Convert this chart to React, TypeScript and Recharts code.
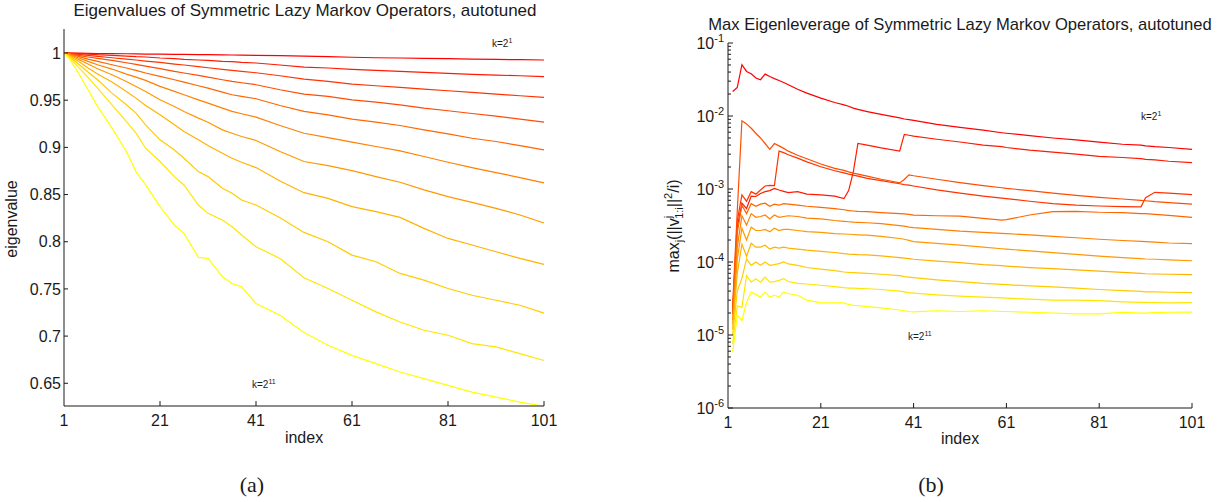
import { LineChart, Line, XAxis, YAxis } from "recharts";

const FONT = '"Liberation Sans", Arial, Helvetica, sans-serif';
const SERIF = '"Liberation Serif", "DejaVu Serif", serif';
const INK = "#1a1a1a";

// ---------- panel (a): eigenvalues ----------
const eigIndex = [1, 2, 3, 4, 6, 8, 11, 14, 16, 18, 21, 24, 26, 29, 31, 34, 36, 38, 41, 46, 51, 56, 61, 66, 71, 76, 81, 86, 91, 96, 101];

const eigK1 = [1, 0.99995, 0.9999, 0.9998, 0.9996, 0.9995, 0.9993, 0.9992, 0.999, 0.9989, 0.9988, 0.9986, 0.9985, 0.9983, 0.9982, 0.998, 0.9979, 0.9978, 0.9975, 0.9972, 0.9966, 0.9961, 0.9955, 0.995, 0.9947, 0.9943, 0.994, 0.9936, 0.9933, 0.9929, 0.9926];
const eigK2 = [1, 0.9998, 0.9996, 0.9993, 0.9989, 0.9982, 0.9975, 0.9968, 0.9961, 0.9958, 0.9947, 0.994, 0.9933, 0.9926, 0.9922, 0.9912, 0.9908, 0.9901, 0.9894, 0.9873, 0.9851, 0.9841, 0.9827, 0.9816, 0.9805, 0.9795, 0.9784, 0.9773, 0.9766, 0.9759, 0.975];
const eigK3 = [1, 0.9996, 0.9993, 0.9986, 0.9975, 0.9965, 0.995, 0.9936, 0.9926, 0.9915, 0.9901, 0.9883, 0.9873, 0.9855, 0.9844, 0.9827, 0.9816, 0.9805, 0.9791, 0.9759, 0.9724, 0.9699, 0.9671, 0.9653, 0.9635, 0.9618, 0.96, 0.9582, 0.9564, 0.9547, 0.953];
const eigK4 = [1, 0.9995, 0.9986, 0.9975, 0.9958, 0.9943, 0.9922, 0.9897, 0.988, 0.9862, 0.9834, 0.9805, 0.9788, 0.9763, 0.9745, 0.9717, 0.9699, 0.9685, 0.9664, 0.9611, 0.9565, 0.954, 0.9504, 0.948, 0.9451, 0.9416, 0.9388, 0.9359, 0.9331, 0.9299, 0.9268];
const eigK5 = [1, 0.9993, 0.9979, 0.9965, 0.9936, 0.9912, 0.9876, 0.9841, 0.9816, 0.9788, 0.9752, 0.9717, 0.9692, 0.9653, 0.9628, 0.9586, 0.9558, 0.954, 0.9515, 0.9444, 0.9381, 0.9345, 0.9299, 0.9267, 0.9232, 0.9186, 0.9143, 0.9097, 0.9062, 0.9019, 0.8974];
const eigK6 = [1, 0.9989, 0.9968, 0.995, 0.9912, 0.9876, 0.983, 0.9777, 0.9745, 0.971, 0.9646, 0.9593, 0.9558, 0.9504, 0.9469, 0.9416, 0.9381, 0.9356, 0.932, 0.9232, 0.915, 0.9104, 0.9055, 0.9009, 0.8963, 0.8903, 0.8842, 0.8786, 0.8733, 0.868, 0.8624];
const eigK7 = [1, 0.9986, 0.9958, 0.9933, 0.9883, 0.9834, 0.977, 0.9699, 0.9646, 0.9593, 0.9504, 0.9434, 0.9381, 0.931, 0.9267, 0.9186, 0.915, 0.9115, 0.9073, 0.8956, 0.885, 0.8807, 0.8754, 0.869, 0.863, 0.8549, 0.8478, 0.8418, 0.8354, 0.8283, 0.8199];
const eigK8 = [1, 0.9979, 0.9943, 0.9912, 0.9841, 0.9777, 0.9692, 0.9593, 0.9522, 0.9444, 0.9345, 0.9239, 0.9168, 0.908, 0.9019, 0.8938, 0.8885, 0.8842, 0.8786, 0.8644, 0.852, 0.846, 0.8372, 0.8319, 0.8258, 0.8142, 0.8035, 0.7965, 0.7894, 0.7823, 0.776];
const eigK9 = [1, 0.9972, 0.9926, 0.9883, 0.9798, 0.9717, 0.9575, 0.9451, 0.9363, 0.9239, 0.908, 0.8973, 0.8885, 0.8743, 0.869, 0.8566, 0.8513, 0.8442, 0.8389, 0.8255, 0.8099, 0.8, 0.7858, 0.7788, 0.7664, 0.7593, 0.7504, 0.7433, 0.738, 0.7327, 0.7243];
const eigK10 = [1, 0.9961, 0.9904, 0.9851, 0.9742, 0.9628, 0.9451, 0.9274, 0.915, 0.8991, 0.885, 0.869, 0.8602, 0.8389, 0.8301, 0.823, 0.8159, 0.8071, 0.7947, 0.7823, 0.7618, 0.7504, 0.738, 0.7257, 0.715, 0.7062, 0.7009, 0.692, 0.6885, 0.6814, 0.6741];
const eigK11 = [1, 0.9947, 0.9869, 0.9788, 0.9611, 0.9434, 0.9204, 0.8956, 0.8743, 0.8602, 0.8372, 0.8177, 0.8089, 0.7834, 0.7824, 0.7629, 0.7557, 0.7522, 0.7345, 0.7221, 0.7037, 0.6903, 0.6796, 0.6708, 0.6619, 0.6549, 0.6478, 0.6407, 0.6354, 0.6301, 0.6256];

const eigSeries = [eigK1, eigK2, eigK3, eigK4, eigK5, eigK6, eigK7, eigK8, eigK9, eigK10, eigK11];
const eigTicks = [0.65, 0.7, 0.75, 0.8, 0.85, 0.9, 0.95, 1];

// ---------- panel (b): max eigenleverage ----------
const levIndex = [2, 3, 4, 5, 6, 7, 8, 9, 10, 11, 12, 13, 14, 16, 18, 21, 24, 26, 27, 28, 29, 31, 34, 38, 39, 40, 41, 46, 51, 56, 60, 61, 66, 71, 76, 81, 86, 90, 91, 93, 96, 101];

const levK1 = [0.0217, 0.0246, 0.0505, 0.0408, 0.0379, 0.0331, 0.0314, 0.0375, 0.0348, 0.0325, 0.0307, 0.0287, 0.0268, 0.0233, 0.0206, 0.0176, 0.0153, 0.0142, 0.0136, 0.0128, 0.0123, 0.0115, 0.0105, 0.0094, 0.0091, 0.0089, 0.0087, 0.0077, 0.007, 0.0064, 0.0059, 0.0058, 0.0054, 0.005, 0.0047, 0.0044, 0.0041, 0.004, 0.0039, 0.0038, 0.0037, 0.0035];
const levK2 = [2.0e-5, 3.0e-4, 6.4e-4, 5.4e-4, 8.0e-4, 7.9e-4, 8.7e-4, 9.2e-4, 9.5e-4, 1.02e-3, 9.7e-4, 9.3e-4, 8.9e-4, 9.2e-4, 8.5e-4, 8.3e-4, 8.0e-4, 7.4e-4, 9.5e-4, 1.7e-3, 4.2e-3, 4.0e-3, 3.65e-3, 3.3e-3, 5.6e-3, 5.45e-3, 5.3e-3, 4.8e-3, 4.4e-3, 4.0e-3, 3.8e-3, 3.7e-3, 3.4e-3, 3.2e-3, 3.0e-3, 2.8e-3, 2.7e-3, 2.6e-3, 2.55e-3, 2.5e-3, 2.4e-3, 2.3e-3];
const levK3 = [2.2e-5, 3.7e-4, 8.3e-4, 6.8e-4, 9.2e-4, 8.5e-4, 9.7e-4, 1.1e-3, 1.12e-3, 1.11e-3, 3.3e-3, 3.15e-3, 2.95e-3, 2.65e-3, 2.35e-3, 2.02e-3, 1.78e-3, 1.66e-3, 1.6e-3, 1.55e-3, 1.5e-3, 1.4e-3, 1.3e-3, 1.18e-3, 1.15e-3, 1.13e-3, 1.1e-3, 9.7e-4, 8.8e-4, 8.0e-4, 7.5e-4, 7.4e-4, 6.8e-4, 6.3e-4, 6.0e-4, 5.85e-4, 5.75e-4, 5.7e-4, 7.6e-4, 9.0e-4, 8.8e-4, 8.4e-4];
const levK4 = [2.5e-5, 5.0e-4, 8.6e-3, 7.8e-3, 6.8e-3, 5.8e-3, 5.0e-3, 4.2e-3, 3.5e-3, 4.2e-3, 3.9e-3, 3.6e-3, 3.3e-3, 2.9e-3, 2.6e-3, 2.2e-3, 1.92e-3, 1.8e-3, 1.72e-3, 1.65e-3, 1.6e-3, 1.5e-3, 1.36e-3, 1.21e-3, 1.35e-3, 1.56e-3, 1.52e-3, 1.36e-3, 1.22e-3, 1.11e-3, 1.04e-3, 1.02e-3, 9.5e-4, 8.8e-4, 8.2e-4, 7.7e-4, 7.3e-4, 7.0e-4, 6.9e-4, 6.7e-4, 6.5e-4, 6.2e-4];
const levK5 = [1.9e-5, 2.5e-4, 6.0e-4, 4.6e-4, 6.3e-4, 5.8e-4, 6.2e-4, 6.4e-4, 5.8e-4, 6.2e-4, 6.0e-4, 6.3e-4, 6.2e-4, 6.0e-4, 5.8e-4, 5.6e-4, 5.4e-4, 5.2e-4, 5.05e-4, 5.0e-4, 4.95e-4, 4.9e-4, 4.75e-4, 4.6e-4, 4.55e-4, 4.5e-4, 4.4e-4, 4.3e-4, 4.25e-4, 3.95e-4, 3.75e-4, 3.8e-4, 4.4e-4, 4.9e-4, 4.95e-4, 4.8e-4, 4.75e-4, 4.6e-4, 4.6e-4, 4.5e-4, 4.35e-4, 4.08e-4];
const levK6 = [1.6e-5, 1.6e-4, 4.3e-4, 3.2e-4, 4.6e-4, 4.1e-4, 4.2e-4, 4.4e-4, 3.9e-4, 4.4e-4, 4.1e-4, 4.2e-4, 4.3e-4, 4.2e-4, 4.0e-4, 3.9e-4, 3.7e-4, 3.6e-4, 3.56e-4, 3.52e-4, 3.5e-4, 3.45e-4, 3.35e-4, 3.15e-4, 3.1e-4, 3.0e-4, 2.95e-4, 2.8e-4, 2.65e-4, 2.55e-4, 2.47e-4, 2.45e-4, 2.35e-4, 2.25e-4, 2.15e-4, 2.05e-4, 1.97e-4, 1.92e-4, 1.9e-4, 1.87e-4, 1.82e-4, 1.79e-4];
const levK7 = [1.4e-5, 1.1e-4, 2.9e-4, 2.0e-4, 3.0e-4, 2.7e-4, 2.7e-4, 2.8e-4, 2.6e-4, 2.9e-4, 2.7e-4, 2.8e-4, 2.8e-4, 2.7e-4, 2.6e-4, 2.55e-4, 2.45e-4, 2.42e-4, 2.4e-4, 2.38e-4, 2.36e-4, 2.33e-4, 2.25e-4, 2.1e-4, 2.05e-4, 1.98e-4, 1.9e-4, 1.8e-4, 1.7e-4, 1.6e-4, 1.52e-4, 1.5e-4, 1.42e-4, 1.34e-4, 1.27e-4, 1.2e-4, 1.15e-4, 1.11e-4, 1.1e-4, 1.09e-4, 1.07e-4, 1.04e-4];
const levK8 = [1.2e-5, 7.0e-5, 1.75e-4, 1.2e-4, 1.8e-4, 1.6e-4, 1.6e-4, 1.7e-4, 1.5e-4, 1.6e-4, 1.55e-4, 1.6e-4, 1.55e-4, 1.5e-4, 1.45e-4, 1.4e-4, 1.35e-4, 1.3e-4, 1.28e-4, 1.27e-4, 1.26e-4, 1.25e-4, 1.21e-4, 1.15e-4, 1.13e-4, 1.11e-4, 1.09e-4, 1.03e-4, 9.8e-5, 9.2e-5, 8.9e-5, 8.8e-5, 8.4e-5, 8.1e-5, 7.8e-5, 7.5e-5, 7.2e-5, 7.0e-5, 6.9e-5, 6.85e-5, 6.8e-5, 6.7e-5];
const levK9 = [1.0e-5, 4.0e-5, 6.0e-5, 1.1e-4, 9.0e-5, 1.0e-4, 9.0e-5, 1.0e-4, 9.0e-5, 9.2e-5, 9.5e-5, 1.0e-4, 9.4e-5, 9.0e-5, 8.4e-5, 8.0e-5, 7.6e-5, 7.3e-5, 7.2e-5, 7.15e-5, 7.1e-5, 7.0e-5, 6.8e-5, 6.5e-5, 6.3e-5, 6.2e-5, 6.1e-5, 5.7e-5, 5.4e-5, 5.1e-5, 4.95e-5, 4.9e-5, 4.7e-5, 4.55e-5, 4.4e-5, 4.2e-5, 4.05e-5, 3.95e-5, 3.9e-5, 3.9e-5, 3.85e-5, 3.8e-5];
const levK10 = [7.5e-6, 2.5e-5, 2.4e-5, 6.5e-5, 5.3e-5, 5.9e-5, 5.3e-5, 6.2e-5, 5.3e-5, 5.4e-5, 5.6e-5, 5.9e-5, 5.4e-5, 5.1e-5, 5.0e-5, 4.8e-5, 4.6e-5, 4.45e-5, 4.4e-5, 4.38e-5, 4.35e-5, 4.3e-5, 4.2e-5, 4.0e-5, 3.9e-5, 3.8e-5, 3.75e-5, 3.55e-5, 3.4e-5, 3.3e-5, 3.22e-5, 3.2e-5, 3.1e-5, 3.0e-5, 3.0e-5, 2.95e-5, 2.85e-5, 2.8e-5, 2.8e-5, 2.78e-5, 2.75e-5, 2.78e-5];
const levK11 = [5.8e-6, 1.85e-5, 1.58e-5, 2.8e-5, 3.87e-5, 3.6e-5, 3.3e-5, 3.87e-5, 3.3e-5, 3.5e-5, 3.3e-5, 3.87e-5, 3.7e-5, 3.5e-5, 3.0e-5, 2.75e-5, 2.75e-5, 2.75e-5, 2.6e-5, 2.55e-5, 2.52e-5, 2.45e-5, 2.35e-5, 2.2e-5, 2.15e-5, 2.1e-5, 2.07e-5, 2.15e-5, 2.1e-5, 2.15e-5, 2.1e-5, 2.1e-5, 2.05e-5, 2.0e-5, 1.95e-5, 1.95e-5, 2.05e-5, 2.0e-5, 2.0e-5, 2.02e-5, 2.05e-5, 2.06e-5];

const levSeries = [levK1, levK2, levK3, levK4, levK5, levK6, levK7, levK8, levK9, levK10, levK11];
const levMajor = [1e-6, 1e-5, 1e-4, 1e-3, 1e-2, 1e-1];
const minorSteps = [2, 3, 4, 5, 6, 7, 8, 9];

const indexTicks = [1, 21, 41, 61, 81, 101];

// autumn colormap, red (k=2^1) to yellow (k=2^11)
const kColor = (n: number) => `rgb(255,${Math.round((255 * n) / 10)},0)`;

function toRows(index: number[], series: number[][]) {
  return index.map((i, r) => {
    const row: Record<string, number> = { index: i };
    series.forEach((s, j) => {
      row[`k${j + 1}`] = s[r];
    });
    return row;
  });
}

const eigData = toRows(eigIndex, eigSeries);
const levData = toRows(levIndex, levSeries);
const levTicks = [
  ...levMajor,
  ...levMajor.slice(0, -1).flatMap((d) => minorSteps.map((m) => m * d)),
].sort((a, b) => a - b);

const textProps = { fontFamily: FONT, fill: INK };

const IndexTick = (props: any) => {
  const { x, y, payload } = props;
  return (
    <g>
      {payload.value !== 1 && <line x1={x} x2={x} y1={y} y2={y - 5} stroke={INK} />}
      <text x={x} y={y + 20} textAnchor="middle" fontSize={16} {...textProps}>
        {payload.value}
      </text>
    </g>
  );
};

const EigTick = (props: any) => {
  const { x, y, payload } = props;
  return (
    <g>
      <line x1={x} x2={x + 4} y1={y} y2={y} stroke={INK} />
      <text x={x - 3} y={y} dy="0.36em" textAnchor="end" fontSize={16} {...textProps}>
        {payload.value}
      </text>
    </g>
  );
};

const LogTick = (props: any) => {
  const { x, y, payload } = props;
  const e = Math.log10(payload.value);
  const major = Math.abs(e - Math.round(e)) < 1e-6;
  return (
    <g>
      <line x1={x} x2={x + (major ? 5 : 3)} y1={y} y2={y} stroke={INK} />
      {major && (
        <text x={x - 4} y={y} dy="0.36em" textAnchor="end" fontSize={16} {...textProps}>
          <tspan>10</tspan>
          <tspan dy={-7} fontSize={11}>{`-${-Math.round(e)}`}</tspan>
        </text>
      )}
    </g>
  );
};

const KNote = ({ x, y, exp }: { x: number; y: number; exp: string }) => (
  <text x={x} y={y} fontSize={10} {...textProps}>
    k=2<tspan dy={-4} fontSize={7}>{exp}</tspan>
  </text>
);

export default function App() {
  return (
    <div style={{ position: "absolute", left: 0, top: 0, width: 1228, height: 502, background: "#fff" }}>
      <div style={{ position: "absolute", left: 0, top: 0 }}>
        <LineChart width={560} height={460} data={eigData} margin={{ top: 29, right: 16, bottom: 24, left: 14 }}>
          <XAxis
            dataKey="index"
            type="number"
            domain={[1, 101]}
            ticks={indexTicks}
            interval={0}
            height={30}
            tickSize={0}
            tickMargin={0}
            tickLine={false}
            tick={<IndexTick />}
            axisLine={{ stroke: INK }}
          />
          <YAxis
            type="number"
            domain={[0.62592, 1.02545]}
            ticks={eigTicks}
            interval={0}
            width={50}
            allowDataOverflow
            tickSize={0}
            tickMargin={0}
            tickLine={false}
            tick={<EigTick />}
            axisLine={{ stroke: INK }}
          />
          {eigSeries.map((_, j) => (
            <Line
              key={j}
              type="linear"
              dataKey={`k${j + 1}`}
              stroke={kColor(j)}
              strokeWidth={1.2}
              dot={false}
              isAnimationActive={false}
            />
          ))}
        </LineChart>
      </div>

      <div style={{ position: "absolute", left: 620, top: 0 }}>
        <LineChart width={600} height={460} data={levData} margin={{ top: 43, right: 28, bottom: 22, left: 48 }}>
          <XAxis
            dataKey="index"
            type="number"
            domain={[1, 101]}
            ticks={indexTicks}
            interval={0}
            height={30}
            tickSize={0}
            tickMargin={0}
            tickLine={false}
            tick={<IndexTick />}
            axisLine={{ stroke: INK }}
          />
          <YAxis
            type="number"
            scale="log"
            domain={[1e-6, 1e-1]}
            ticks={levTicks}
            interval={0}
            width={60}
            allowDataOverflow
            tickSize={0}
            tickMargin={0}
            tickLine={false}
            tick={<LogTick />}
            axisLine={{ stroke: INK }}
          />
          {levSeries.map((_, j) => (
            <Line
              key={j}
              type="linear"
              dataKey={`k${j + 1}`}
              stroke={kColor(j)}
              strokeWidth={1.2}
              dot={false}
              isAnimationActive={false}
            />
          ))}
        </LineChart>
      </div>

      <svg width={1228} height={502} style={{ position: "absolute", left: 0, top: 0, pointerEvents: "none" }}>
        <text x={305} y={15.5} textAnchor="middle" fontSize={17} {...textProps}>
          Eigenvalues of Symmetric Lazy Markov Operators, autotuned
        </text>
        <text x={960} y={30} textAnchor="middle" fontSize={16.6} {...textProps}>
          Max Eigenleverage of Symmetric Lazy Markov Operators, autotuned
        </text>

        <text x={304} y={443} textAnchor="middle" fontSize={16} {...textProps}>index</text>
        <text x={960} y={444} textAnchor="middle" fontSize={16} {...textProps}>index</text>

        <text x={16.5} y={219} transform="rotate(-90 16.5 219)" textAnchor="middle" fontSize={16} {...textProps}>
          eigenvalue
        </text>
        <text x={679} y={226} transform="rotate(-90 679 226)" textAnchor="middle" fontSize={16} {...textProps}>
          max<tspan dy={4} fontSize={11}>j</tspan>
          <tspan dy={-4}>(||v</tspan>
          <tspan dy={-7} fontSize={11}>j</tspan>
          <tspan dx={-3} dy={11} fontSize={11}>1:i</tspan>
          <tspan dy={-4}>||</tspan>
          <tspan dy={-7} fontSize={11}>2</tspan>
          <tspan dy={7}>/i)</tspan>
        </text>

        <KNote x={492} y={47} exp="1" />
        <KNote x={252} y={388} exp="11" />
        <KNote x={1141} y={120} exp="1" />
        <KNote x={908} y={340} exp="11" />

        <text x={252} y={492} textAnchor="middle" fontSize={22} fontFamily={SERIF} fill={INK}>
          (a)
        </text>
        <text x={931} y={492} textAnchor="middle" fontSize={22} fontFamily={SERIF} fill={INK}>
          (b)
        </text>
      </svg>
    </div>
  );
}
